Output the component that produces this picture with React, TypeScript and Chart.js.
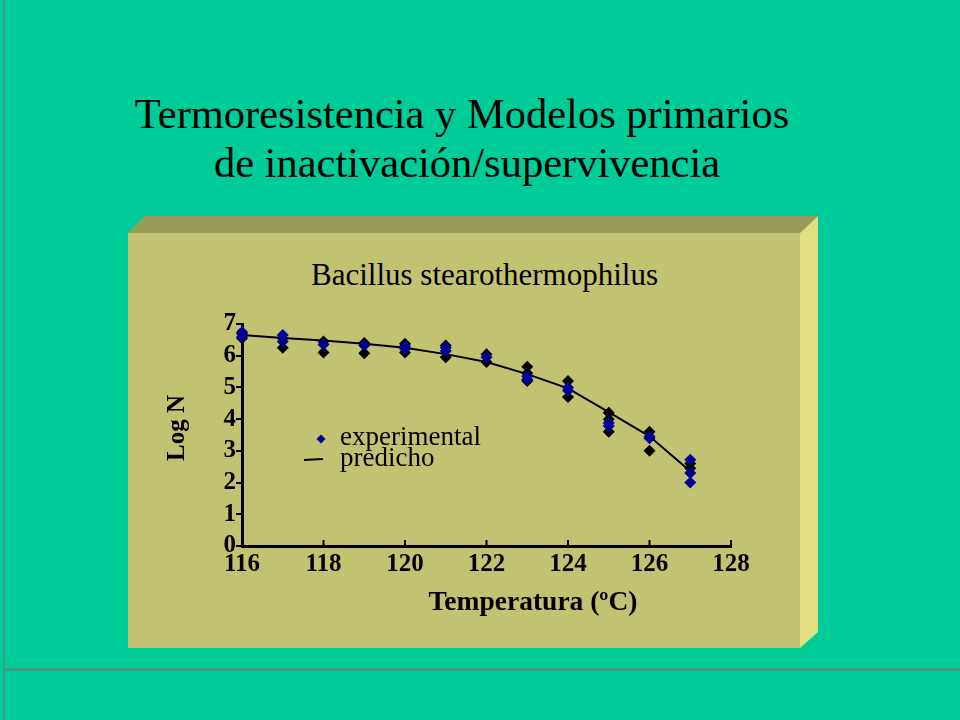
import React, { useEffect, useRef } from "react";
import { Chart, registerables } from "chart.js";

Chart.register(...registerables);

const pageTitle1 = "Termoresistencia y Modelos primarios";
const pageTitle2 = "de inactivación/supervivencia";
const chartTitle = "Bacillus stearothermophilus";
const xAxisTitle = "Temperatura (ºC)";
const yAxisTitle = "Log N";
const legendExperimental = "experimental";
const legendPredicted = "predicho";

// experimental replicates (black markers)
const expBlackT = [116, 116, 117, 117, 118, 118, 119, 119, 120, 120, 121, 121, 122, 122, 123, 123, 123, 124, 124, 125, 125, 125, 126, 126, 127, 127];
const expBlackLogN = [6.55, 6.7, 6.25, 6.55, 6.1, 6.45, 6.08, 6.4, 6.1, 6.38, 5.95, 6.32, 6.05, 5.8, 5.65, 5.45, 5.2, 5.2, 4.7, 4.2, 4.0, 3.6, 3.6, 3.0, 2.6, 2.45];

// experimental replicates (blue markers)
const expBlueT = [116, 116, 117, 117, 118, 119, 120, 120, 121, 121, 122, 123, 123, 124, 124, 125, 125, 126, 126, 127, 127, 127];
const expBlueLogN = [6.6, 6.75, 6.45, 6.65, 6.35, 6.32, 6.22, 6.3, 6.15, 6.25, 5.95, 5.35, 5.25, 5.0, 4.9, 3.88, 3.78, 3.45, 3.4, 2.72, 2.3, 2.0];

// model prediction
const predT = [116, 117, 118, 119, 120, 121, 122, 123, 124, 125, 126, 127];
const predLogN = [6.65, 6.56, 6.48, 6.38, 6.25, 6.05, 5.8, 5.42, 4.97, 4.22, 3.46, 2.36];

const xMin = 116;
const xMax = 128;
const xStep = 2;
const yMin = 0;
const yMax = 7;
const yStep = 1;

const SERIF = "'Liberation Serif', 'Times New Roman', Times, serif";
const BLUE = "#000099";

const toPoints = (xs: number[], ys: number[]) => xs.map((x, i) => ({ x, y: ys[i] }));

export default function App() {
  const canvasRef = useRef<HTMLCanvasElement | null>(null);

  useEffect(() => {
    const canvas = canvasRef.current;
    if (!canvas) return;

    const innerTicks = {
      id: "innerTicks",
      afterDraw(chart: any) {
        const { ctx, scales } = chart;
        const xs = scales.x;
        const bottom = chart.chartArea.bottom;
        ctx.save();
        ctx.strokeStyle = "#000";
        ctx.lineWidth = 2;
        xs.ticks.forEach((t: any) => {
          const px = xs.getPixelForValue(t.value);
          ctx.beginPath();
          ctx.moveTo(px, bottom);
          ctx.lineTo(px, bottom - 6);
          ctx.stroke();
        });
        ctx.restore();
      },
    };

    const axisTitles = {
      id: "axisTitles",
      afterDraw(chart: any) {
        const { ctx, chartArea } = chart;
        ctx.save();
        ctx.fillStyle = "#000";
        ctx.textAlign = "center";
        ctx.textBaseline = "middle";
        ctx.font = `bold 27.5px ${SERIF}`;
        ctx.fillText(xAxisTitle, chartArea.left + 291, chartArea.bottom + 57);
        ctx.translate(chartArea.left - 64, chartArea.top + 104);
        ctx.rotate(-Math.PI / 2);
        ctx.font = `bold 25px ${SERIF}`;
        ctx.fillText(yAxisTitle, 0, 0);
        ctx.restore();
      },
    };

    const insideLegend = {
      id: "insideLegend",
      afterDraw(chart: any) {
        const { ctx, chartArea } = chart;
        const l = chartArea.left;
        const t = chartArea.top;
        ctx.save();
        const cx = l + 79;
        const cy = t + 115;
        const r = 4.5;
        ctx.fillStyle = BLUE;
        ctx.beginPath();
        ctx.moveTo(cx, cy - r);
        ctx.lineTo(cx + r, cy);
        ctx.lineTo(cx, cy + r);
        ctx.lineTo(cx - r, cy);
        ctx.closePath();
        ctx.fill();
        ctx.strokeStyle = "#000";
        ctx.lineWidth = 2;
        ctx.beginPath();
        ctx.moveTo(l + 62, t + 136);
        ctx.lineTo(l + 81, t + 135);
        ctx.stroke();
        ctx.fillStyle = "#000";
        ctx.font = `27px ${SERIF}`;
        ctx.textAlign = "left";
        ctx.textBaseline = "middle";
        ctx.fillText(legendExperimental, l + 98, t + 114);
        ctx.fillText(legendPredicted, l + 98, t + 135);
        ctx.restore();
      },
    };

    const chart = new Chart(canvas, {
      type: "scatter",
      data: {
        datasets: [
          {
            label: legendExperimental,
            data: toPoints(expBlueT, expBlueLogN),
            pointStyle: "rectRot",
            pointRadius: 6,
            backgroundColor: BLUE,
            borderColor: BLUE,
            borderWidth: 0,
            showLine: false,
            clip: false,
          },
          {
            label: legendExperimental + " (2)",
            data: toPoints(expBlackT, expBlackLogN),
            pointStyle: "rectRot",
            pointRadius: 6,
            backgroundColor: "#000",
            borderColor: "#000",
            borderWidth: 0,
            showLine: false,
            clip: false,
          },
          {
            label: legendPredicted,
            data: toPoints(predT, predLogN),
            showLine: true,
            borderColor: "#000",
            borderWidth: 2,
            pointRadius: 0,
            fill: false,
            tension: 0,
            clip: false,
          } as any,
        ],
      },
      options: {
        responsive: false,
        animation: false,
        devicePixelRatio: 1,
        layout: { padding: { left: 159, right: 229, top: 324, bottom: 98 } },
        plugins: {
          legend: { display: false },
          title: { display: false },
          tooltip: { enabled: false },
        },
        scales: {
          x: {
            type: "linear",
            min: xMin,
            max: xMax,
            afterFit: (s: any) => {
              s.height = 76;
            },
            border: { display: true, color: "#000", width: 3 },
            grid: { display: false, drawTicks: false, drawOnChartArea: false },
            ticks: {
              stepSize: xStep,
              padding: 4,
              autoSkip: false,
              color: "#000",
              font: { family: SERIF, size: 25, weight: "bold" },
              maxRotation: 0,
            },
            title: { display: false, text: xAxisTitle },
          },
          y: {
            type: "linear",
            min: yMin,
            max: yMax,
            afterFit: (s: any) => {
              s.width = 83;
            },
            border: { display: true, color: "#000", width: 3 },
            grid: {
              display: true,
              drawOnChartArea: false,
              drawTicks: true,
              tickLength: 6,
              color: "#000",
              lineWidth: 2,
            },
            ticks: {
              stepSize: yStep,
              padding: 0,
              autoSkip: false,
              color: "#000",
              font: { family: SERIF, size: 25, weight: "bold" },
            },
            title: { display: false, text: yAxisTitle },
          },
        },
      } as any,
      plugins: [innerTicks, axisTitles, insideLegend],
    });

    return () => chart.destroy();
  }, []);

  const textBase: React.CSSProperties = {
    position: "absolute",
    fontFamily: SERIF,
    color: "#000",
    whiteSpace: "nowrap",
    textAlign: "center",
    margin: 0,
  };

  return (
    <div
      style={{
        position: "fixed",
        left: 0,
        top: 0,
        width: 960,
        height: 720,
        background: "#00CC99",
        overflow: "hidden",
      }}
    >
      <div style={{ position: "absolute", left: 3, top: 0, width: 2, height: 720, background: "#3F9A7E" }} />
      <div style={{ position: "absolute", left: 3, top: 668, width: 957, height: 3, background: "#4A9680" }} />
      <div
        style={{
          position: "absolute",
          left: 128,
          top: 216,
          width: 690,
          height: 17,
          background: "#99995A",
          clipPath: "polygon(0px 17px, 17px 0px, 690px 0px, 672px 17px)",
        }}
      />
      <div
        style={{
          position: "absolute",
          left: 800,
          top: 216,
          width: 18,
          height: 432,
          background: "#E0E080",
          clipPath: "polygon(0px 17px, 18px 0px, 18px 416px, 0px 432px)",
        }}
      />
      <div style={{ position: "absolute", left: 128, top: 233, width: 672, height: 415, background: "#C2C273" }} />

      <div style={{ ...textBase, left: 0, width: 924, top: 93, fontSize: 42.5, lineHeight: "42px" }}>{pageTitle1}</div>
      <div style={{ ...textBase, left: 0, width: 934, top: 142, fontSize: 42.5, lineHeight: "42px" }}>{pageTitle2}</div>
      <div style={{ ...textBase, left: 0, width: 969, top: 259, fontSize: 31, lineHeight: "31px" }}>{chartTitle}</div>

      <canvas
        ref={canvasRef}
        width={960}
        height={720}
        style={{ position: "absolute", left: 0, top: 0, width: 960, height: 720 }}
      />
    </div>
  );
}
